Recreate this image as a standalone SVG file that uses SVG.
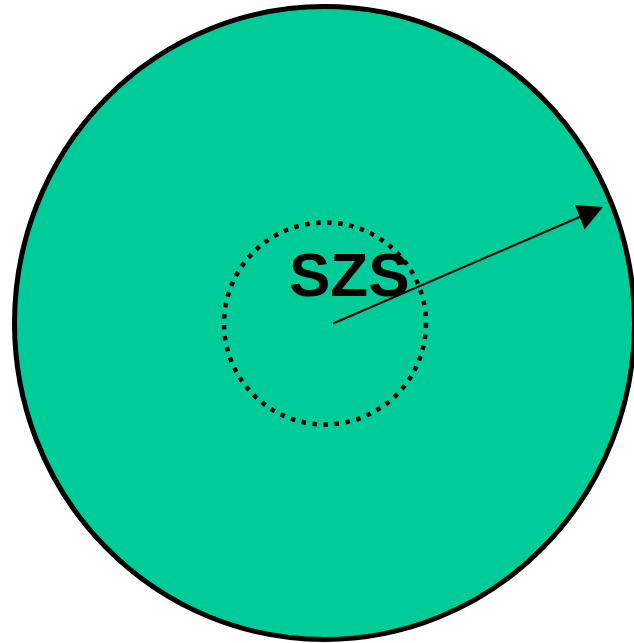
<svg xmlns="http://www.w3.org/2000/svg" width="634" height="643" viewBox="0 0 634 643">
<style>
.outer{fill:#00CC99;stroke:#000;stroke-width:5}
.inner{fill:none;stroke:#000;stroke-width:4.5;stroke-dasharray:4.5 6.6}
.lbl{font-family:"Liberation Sans",Arial,sans-serif;font-weight:bold;font-size:62px;fill:#000}
.conn{stroke:#000;stroke-width:2;fill:none}
</style>
<defs>
<marker id="ah" viewBox="0 0 10 10" refX="10" refY="5" markerWidth="13" markerHeight="13" markerUnits="userSpaceOnUse" orient="auto">
<path d="M0,0 L10,5 L0,10 Z" fill="#000"/>
</marker>
</defs>
<g id="outer-circle"><ellipse class="outer" cx="324.5" cy="323" rx="310" ry="316.5"/></g>
<g id="szs"><circle class="inner" cx="325" cy="323.5" r="101"/>
<text class="lbl" x="289" y="296">SZS</text></g>
<g id="connectors"><line class="conn" x1="333" y1="323.5" x2="590" y2="212.5"/>
<path d="M603,207 L575,205 L584.5,229.5 Z" fill="#000"/></g>
</svg>
